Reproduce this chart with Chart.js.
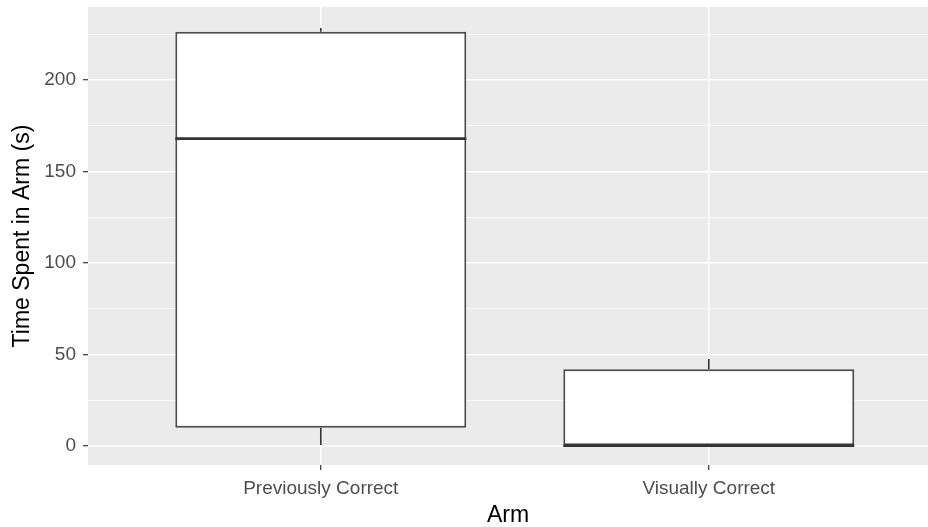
<!DOCTYPE html>
<html>
<head>
<meta charset="utf-8">
<script src="https://cdn.jsdelivr.net/npm/chart.js@4.4.1/dist/chart.umd.min.js"></script>
<style>
    html, body { margin: 0; padding: 0; background: #fff; }
    .chart-wrap { width: 928px; height: 527px; position: relative; }
</style>
</head>
<body>
<div class="chart-wrap"><canvas id="chart"></canvas></div>
<script>
// boxplot summary per arm
const categories = ['Previously Correct', 'Visually Correct']
const lowerWhisker = [0.5, 0]
const lowerQuartile = [10, 0]
const medians = [168, 0.2]
const upperQuartile = [226.5, 42]
const upperWhisker = [228.5, 47.5]
const yTicks = [0, 50, 100, 150, 200]

const boxWidth = 0.75
const lineColor = '#333333'
const fontFamily = 'Liberation Sans, Arial, sans-serif'

// category positions on a numeric axis (1, 2, ...)
const positions = categories.map((c, i) => i + 1)

const boxData = positions.map((x, i) => ({ x: x, y: [lowerQuartile[i], upperQuartile[i]] }))

const segments = (fn) => {
    const pts = []
    positions.forEach((x, i) => {
        fn(x, i).forEach(p => pts.push(p))
        pts.push({ x: x, y: null })
    })
    return pts
}

const medianData = segments((x, i) => [
    { x: x - boxWidth / 2, y: medians[i] },
    { x: x + boxWidth / 2, y: medians[i] }
])
const whiskerData = segments((x, i) => [
    { x: x, y: upperQuartile[i] },
    { x: x, y: upperWhisker[i] },
    { x: x, y: null },
    { x: x, y: lowerWhisker[i] },
    { x: x, y: lowerQuartile[i] }
])

const panelBg = {
    id: 'panelBg',
    beforeDraw(chart) {
        const { ctx, chartArea } = chart
        ctx.save()
        ctx.fillStyle = '#EBEBEB'
        ctx.fillRect(chartArea.left, chartArea.top, chartArea.right - chartArea.left, chartArea.bottom - chartArea.top)
        ctx.restore()
    }
}

const lineStyle = {
    type: 'line',
    borderColor: lineColor,
    pointRadius: 0,
    spanGaps: false,
    fill: false,
    tension: 0
}

const isMajor = ctx => ctx.tick && yTicks.includes(ctx.tick.value)

new Chart(document.getElementById('chart'), {
    type: 'bar',
    data: {
        datasets: [
            Object.assign({}, lineStyle, { data: whiskerData, borderWidth: 1.6, order: 2 }),
            {
                type: 'bar',
                data: boxData,
                backgroundColor: '#ffffff',
                borderColor: '#4d4d4d',
                borderWidth: 2,
                borderSkipped: false,
                categoryPercentage: boxWidth,
                barPercentage: 1,
                order: 1
            },
            Object.assign({}, lineStyle, { data: medianData, borderWidth: 2.8, order: 0 })
        ]
    },
    plugins: [panelBg],
    options: {
        animation: false,
        responsive: true,
        maintainAspectRatio: false,
        layout: { padding: { top: 7, right: 0, left: 0, bottom: 0 } },
        plugins: {
            legend: { display: false },
            tooltip: { enabled: false }
        },
        scales: {
            x: {
                type: 'linear',
                offset: false,
                min: 0.4,
                max: 2.565,
                afterBuildTicks: scale => { scale.ticks = positions.map(v => ({ value: v })) },
                afterFit: scale => {
                    scale.height = 62
                    scale.paddingLeft = 0
                    scale.paddingRight = 0
                },
                grid: {
                    offset: false,
                    color: '#ffffff',
                    lineWidth: 1.4,
                    drawTicks: true,
                    tickLength: 5,
                    tickColor: lineColor,
                    tickWidth: 1.2
                },
                border: { display: false },
                ticks: {
                    padding: 7,
                    maxRotation: 0,
                    color: '#4D4D4D',
                    font: { family: fontFamily, size: 19 },
                    callback: v => categories[v - 1]
                },
                title: {
                    display: true,
                    text: 'Arm',
                    color: '#000000',
                    padding: { top: 0, bottom: 0 },
                    font: { family: fontFamily, size: 23, lineHeight: 1 }
                }
            },
            y: {
                min: -10.4,
                max: 240,
                afterBuildTicks: scale => {
                    const t = []
                    yTicks.forEach(v => { t.push({ value: v }); t.push({ value: v + 25 }) })
                    scale.ticks = t
                },
                afterFit: scale => {
                    scale.width = 88
                    scale.paddingTop = 0
                    scale.paddingBottom = 0
                },
                grid: {
                    color: '#ffffff',
                    lineWidth: ctx => isMajor(ctx) ? 1.4 : 0.7,
                    tickLength: 5,
                    tickColor: ctx => isMajor(ctx) ? lineColor : 'rgba(0,0,0,0)',
                    tickWidth: 1.2
                },
                border: { display: false },
                ticks: {
                    padding: 7,
                    color: '#4D4D4D',
                    font: { family: fontFamily, size: 19 },
                    callback: v => yTicks.includes(v) ? String(v) : ''
                },
                title: {
                    display: true,
                    text: 'Time Spent in Arm (s)',
                    color: '#000000',
                    padding: { top: 11, bottom: 0 },
                    font: { family: fontFamily, size: 23, lineHeight: 1 }
                }
            }
        }
    }
})
</script>
</body>
</html>
